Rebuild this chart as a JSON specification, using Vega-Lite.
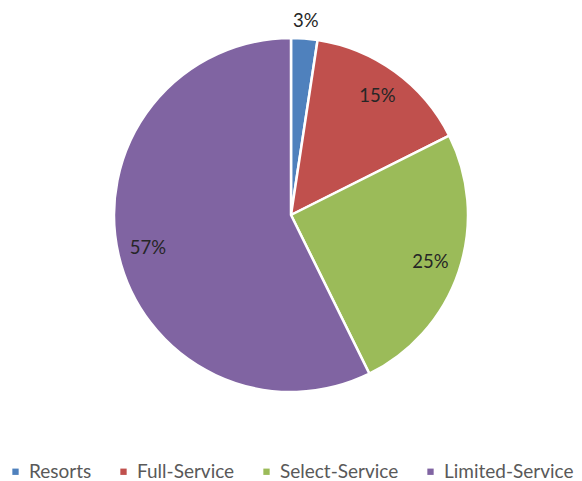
{
  "$schema": "https://vega.github.io/schema/vega-lite/v6.json",
  "width": 582,
  "height": 430,
  "autosize": {"type": "pad"},
  "padding": 0,
  "background": "white",
  "config": {"view": {"stroke": null}, "font": "Lato"},
  "data": {
    "values": [
      {"idx": 1, "Segment": "Resorts", "share": 2.4, "label": "3%"},
      {"idx": 2, "Segment": "Full-Service", "share": 15.2, "label": "15%"},
      {"idx": 3, "Segment": "Select-Service", "share": 25.1, "label": "25%"},
      {"idx": 4, "Segment": "Limited-Service", "share": 57.3, "label": "57%"}
    ]
  },
  "layer": [
    {
      "mark": {"type": "arc", "outerRadius": 177, "stroke": "white", "strokeWidth": 2.5},
      "encoding": {
        "theta": {"field": "share", "type": "quantitative", "stack": true, "scale": {"domain": [0, 100]}},
        "order": {"field": "idx", "type": "quantitative"},
        "color": {
          "field": "Segment",
          "type": "nominal",
          "scale": {
            "domain": ["Resorts", "Full-Service", "Select-Service", "Limited-Service"],
            "range": ["#4F81BD", "#C0504D", "#9BBB59", "#8064A2"]
          },
          "legend": {
            "title": null,
            "orient": "bottom",
            "direction": "horizontal",
            "offset": 32,
            "padding": 0,
            "symbolType": "square",
            "symbolSize": 40,
            "symbolStrokeWidth": 0,
            "labelFont": "Lato",
            "labelFontSize": 19,
            "labelColor": "#595959",
            "columnPadding": 16,
            "symbolOffset": 6,
            "labelOffset": 4,
            "labelLimit": 300
          }
        }
      }
    },
    {
      "transform": [
        {"window": [{"op": "sum", "field": "share", "as": "cum"}], "sort": [{"field": "idx"}]},
        {"calculate": "datum.cum - datum.share / 2", "as": "mid"},
        {"filter": "datum.Segment !== 'Resorts'"}
      ],
      "mark": {"type": "text", "font": "Lato", "fontSize": 18.5, "color": "#262626", "radius": 147},
      "encoding": {
        "theta": {"field": "mid", "type": "quantitative", "stack": false},
        "text": {"field": "label", "type": "nominal"}
      }
    },
    {
      "transform": [
        {"window": [{"op": "sum", "field": "share", "as": "cum"}], "sort": [{"field": "idx"}]},
        {"calculate": "datum.cum - datum.share / 2", "as": "mid"},
        {"filter": "datum.Segment === 'Resorts'"}
      ],
      "mark": {"type": "text", "font": "Lato", "fontSize": 18.5, "color": "#262626", "radius": 195},
      "encoding": {
        "theta": {"field": "mid", "type": "quantitative", "stack": false},
        "text": {"field": "label", "type": "nominal"}
      }
    }
  ]
}
